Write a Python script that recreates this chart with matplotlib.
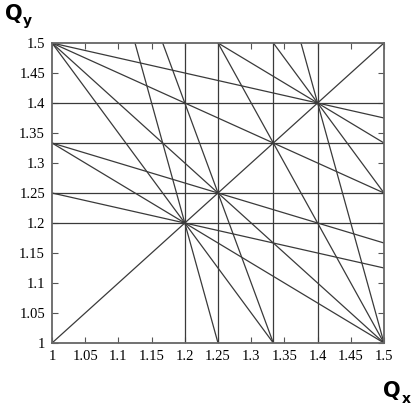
import numpy as np
import matplotlib
matplotlib.use("Agg")
import matplotlib.pyplot as plt

# resonance lines  m*Qx + n*Qy = p
res_m = [5, 4, 3, 5, 0, 0, 0, 0, 1, 2, 1, 3, 1, 2, 4, 4, 1, 1, 3, 3, 2, 2]
res_n = [0, 0, 0, 0, 5, 4, 3, 5, -1, 1, 2, 1, 3, 2, 1, 1, 4, 4, 2, 2, 3, 3]
res_p = [6, 5, 4, 7, 6, 5, 4, 7, 0, 4, 4, 5, 5, 5, 6, 7, 6, 7, 6, 7, 6, 7]

xticks = [1, 1.05, 1.1, 1.15, 1.2, 1.25, 1.3, 1.35, 1.4, 1.45, 1.5]
yticks = [1, 1.05, 1.1, 1.15, 1.2, 1.25, 1.3, 1.35, 1.4, 1.45, 1.5]
tick_labels = ["1", "1.05", "1.1", "1.15", "1.2", "1.25", "1.3", "1.35", "1.4", "1.45", "1.5"]

fig = plt.figure(figsize=(4.15, 4.05), dpi=100)
ax = fig.add_axes([52 / 415, 1 - 343 / 405, 332 / 415, 300 / 405])

qx = np.array([1.0, 1.5])
lc = "#3a3a3a"
for m, n, p in zip(res_m, res_n, res_p):
    if n == 0:
        ax.axvline(p / m, color=lc, lw=0.9)
    elif m == 0:
        ax.axhline(p / n, color=lc, lw=0.9)
    else:
        ax.plot(qx, (p - m * qx) / n, color=lc, lw=0.9)

ax.set_xlim(1, 1.5)
ax.set_ylim(1, 1.5)
ax.set_xticks(xticks)
ax.set_yticks(yticks)
ax.set_xticklabels(tick_labels, family="Liberation Serif", fontsize=10.5)
ax.set_yticklabels(tick_labels, family="Liberation Serif", fontsize=10.5)
ax.tick_params(direction="in", length=4, top=True, right=True, color="#555", pad=5)
for s in ax.spines.values():
    s.set_color("#666")
    s.set_linewidth(1.3)

fig.text(5 / 415, 1 - 20 / 405, "Q", fontsize=15, fontweight="bold", family="DejaVu Sans")
fig.text(23 / 415, 1 - 25 / 405, "y", fontsize=10, fontweight="bold", family="DejaVu Sans")
fig.text(383 / 415, 1 - 397 / 405, "Q", fontsize=15, fontweight="bold", family="DejaVu Sans")
fig.text(402 / 415, 1 - 403 / 405, "x", fontsize=10, fontweight="bold", family="DejaVu Sans")

fig.savefig("out.png", dpi=100)
